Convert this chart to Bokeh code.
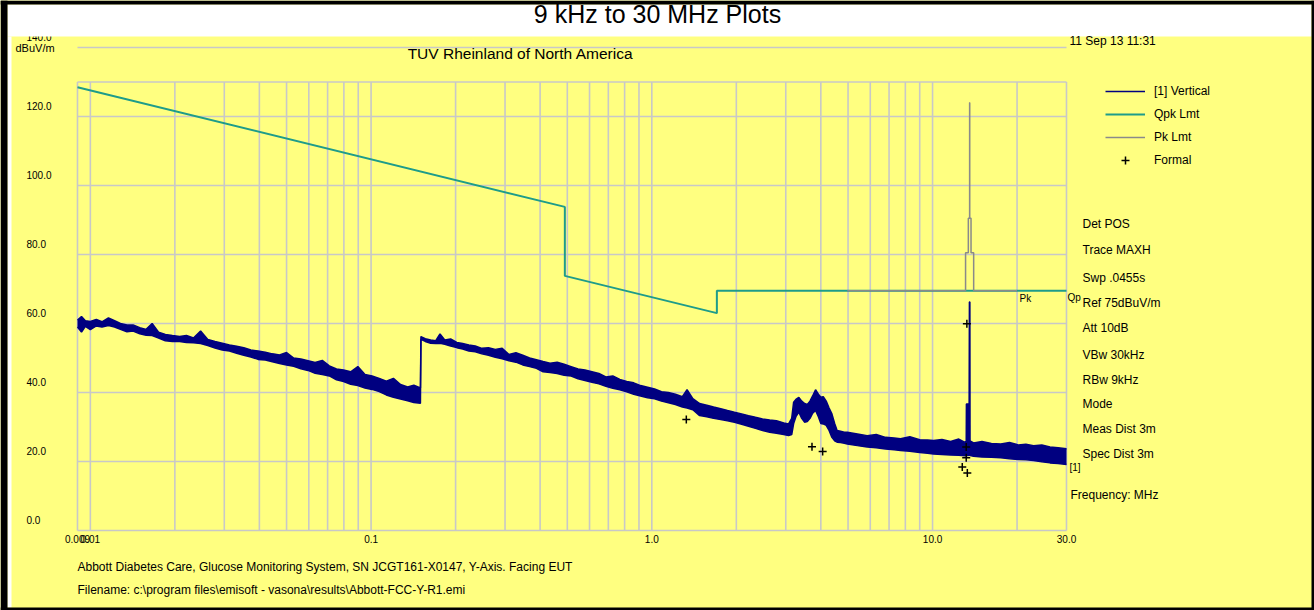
import math
from bokeh.plotting import figure
from bokeh.models import Range1d, Label, BoxAnnotation, Legend, LegendItem
from bokeh.core.properties import value
from bokeh.embed import file_html
from bokeh.resources import INLINE

# ---------------- data ----------------
qpk_freq = [0.009, 0.49, 0.49, 1.705, 1.705, 30.0]
qpk_db = [128.5, 93.8, 73.8, 63.0, 69.5, 69.5]

pk_freq = [4.97, 13.11, 13.11, 13.41, 13.41, 13.553, 13.553, 13.567, 13.567,
           13.71, 13.71, 14.01, 14.01, 20.0]
pk_db = [69.5, 69.5, 80.5, 80.5, 90.5, 90.5, 124.0, 124.0, 90.5,
         90.5, 80.5, 80.5, 69.5, 69.5]

trace_freq = [
    0.0090, 0.0093, 0.0096, 0.0100, 0.0105, 0.0110, 0.0116, 0.0122, 0.0128, 0.0135,
    0.0142, 0.0150, 0.0158, 0.0166, 0.0175, 0.0185, 0.0196, 0.0208, 0.0220, 0.0233,
    0.0247, 0.0262, 0.0278, 0.0295, 0.0313, 0.0332, 0.0352, 0.0373, 0.0396, 0.0420,
    0.0445, 0.0472, 0.0500, 0.0530, 0.0562, 0.0596, 0.0632, 0.0670, 0.0710, 0.0753,
    0.0798, 0.0846, 0.0897, 0.0951, 0.1008, 0.1069, 0.1133, 0.1201, 0.1273, 0.1350,
    0.1420, 0.1499,
    0.1505, 0.156, 0.163, 0.170, 0.176, 0.183, 0.192, 0.202, 0.212, 0.223,
    0.235, 0.248, 0.262, 0.277, 0.293, 0.310, 0.328, 0.347, 0.367, 0.388,
    0.410, 0.434, 0.460, 0.487, 0.516, 0.546, 0.578, 0.612, 0.648, 0.686,
    0.726, 0.769, 0.814, 0.862, 0.912, 0.966, 1.023, 1.083, 1.146, 1.213,
    1.285, 1.335, 1.40, 1.48, 1.57, 1.66, 1.76, 1.86, 1.97, 2.09,
    2.21, 2.34, 2.48, 2.63, 2.78, 2.95, 3.07,
    3.15, 3.20, 3.26, 3.34, 3.42, 3.50, 3.58, 3.66, 3.74, 3.83,
    3.92, 4.00, 4.08, 4.18, 4.28, 4.38, 4.48, 4.57, 4.70, 4.85, 4.97,
    5.40, 5.85, 6.30, 6.80, 7.30, 7.69, 8.30, 9.00, 9.60, 10.08,
    10.80, 11.60, 12.40, 13.00, 13.18, 13.20, 13.50, 13.53, 13.58, 13.60,
    14.00, 15.00, 16.20, 17.50, 18.80, 20.20, 21.50, 22.90, 24.50, 26.20,
    28.00, 30.00,
]
trace_hi = [
    61.0, 62.0, 60.8, 60.6, 61.2, 60.5, 61.6, 60.8, 60.0, 59.6,
    59.6, 58.8, 58.3, 60.0, 57.5, 56.8, 56.5, 56.2, 56.5, 55.8,
    57.8, 55.4, 54.8, 54.3, 53.8, 53.4, 53.0, 52.3, 52.0, 51.7,
    51.2, 50.9, 51.6, 50.0, 49.7, 49.2, 48.7, 49.3, 47.7, 46.8,
    46.5, 46.0, 47.5, 45.2, 44.8, 44.1, 43.3, 44.1, 42.3, 41.6,
    42.1, 41.3,
    56.2, 55.6, 55.2, 55.0, 57.0, 55.2, 55.5, 54.5, 54.2, 53.8,
    53.5, 52.8, 53.0, 52.5, 52.8, 51.0, 51.5, 50.8, 50.0, 49.5,
    49.0, 48.5, 48.8, 48.2, 47.5, 46.8, 46.5, 46.0, 45.5, 44.5,
    44.8, 43.8, 43.2, 42.8, 42.0, 41.5, 41.0, 40.2, 40.0, 39.5,
    38.8, 40.8, 38.2, 36.8, 36.3, 35.8, 35.3, 34.8, 34.3, 33.8,
    33.3, 32.8, 32.3, 32.0, 31.8, 31.2, 30.9,
    32.5, 37.2, 38.0, 38.6, 37.5, 36.8, 36.5, 37.5, 39.0, 40.8,
    39.5, 38.6, 38.8, 37.5, 35.5, 33.8, 31.0, 29.0, 28.8, 28.5, 28.5,
    28.0, 27.5, 27.8, 27.0, 26.8, 26.6, 27.2, 26.3, 26.2, 26.1,
    26.4, 25.8, 26.5, 25.6, 25.8, 36.7, 36.7, 66.2, 66.2, 26.0,
    25.4, 25.8, 25.2, 25.1, 25.5, 24.8, 25.0, 24.6, 24.8, 24.2,
    24.0, 23.7,
]
trace_lo = [
    59.0, 57.5, 59.2, 58.2, 59.3, 59.0, 59.4, 59.0, 58.3, 57.6,
    57.8, 57.0, 56.6, 56.5, 55.8, 55.0, 54.8, 54.8, 54.5, 54.4,
    54.2, 53.6, 52.9, 52.3, 52.0, 51.4, 50.8, 50.3, 49.6, 49.4,
    48.9, 48.4, 48.0, 47.6, 46.9, 46.4, 45.6, 45.2, 44.8, 43.7,
    43.2, 42.4, 42.0, 41.3, 40.9, 40.3, 39.3, 38.6, 38.1, 37.6,
    37.1, 36.9,
    55.4, 54.8, 54.3, 54.2, 54.3, 54.0, 53.5, 53.0, 52.6, 52.0,
    51.8, 51.2, 50.8, 50.2, 49.8, 49.2, 48.8, 48.0, 47.5, 47.0,
    46.0, 45.8, 45.5, 45.0, 44.8, 44.0, 43.5, 43.0, 42.5, 41.8,
    41.2, 40.8, 40.2, 39.5, 39.0, 38.5, 38.2, 37.5, 37.0, 36.5,
    35.8, 35.5, 35.0, 33.3, 33.0, 32.5, 32.2, 31.8, 31.4, 30.8,
    30.2, 29.6, 29.0, 28.5, 28.2, 27.8, 27.5,
    27.8, 31.0, 33.0, 34.3, 32.5, 31.4, 31.6, 32.5, 34.0, 34.8,
    33.0, 31.0, 30.9, 30.5, 29.0, 27.0, 26.0, 25.6, 25.5, 25.3, 25.1,
    24.6, 24.2, 24.0, 23.6, 23.4, 23.2, 23.0, 22.6, 22.4, 22.2,
    22.0, 21.9, 21.8, 21.7, 21.7, 21.7, 21.8, 21.8, 21.8, 21.7,
    21.5, 21.3, 21.2, 21.1, 20.8, 20.6, 20.5, 20.3, 19.9, 19.6,
    19.4, 19.1,
]

formal_freq = [1.327, 3.72, 4.06, 13.18, 13.18, 12.76, 13.30, 13.25]
formal_db = [32.2, 24.3, 22.9, 24.2, 21.1, 18.4, 16.7, 59.9]

grid_freq = [0.009, 0.01, 0.02, 0.03, 0.04, 0.05, 0.06, 0.07, 0.08, 0.09,
             0.1, 0.2, 0.3, 0.4, 0.5, 0.6, 0.7, 0.8, 0.9,
             1.0, 2.0, 3.0, 4.0, 5.0, 6.0, 7.0, 8.0, 9.0,
             10.0, 20.0, 30.0]
grid_db = [0, 20, 40, 60, 80, 100, 120, 130, 140]

y_ticks = [0, 20, 40, 60, 80, 100, 120, 140]
y_tick_labels = ["0.0", "20.0", "40.0", "60.0", "80.0", "100.0", "120.0", "140.0"]
x_ticks = [0.009, 0.01, 0.1, 1.0, 10.0, 30.0]
x_tick_labels = ["0.009", "0.01", "0.1", "1.0", "10.0", "30.0"]

legend_labels = ["[1] Vertical", "Qpk Lmt", "Pk Lmt", "Formal"]
info_lines = ["Det POS", "Trace MAXH", "Swp .0455s", "Ref 75dBuV/m", "Att 10dB",
              "VBw 30kHz", "RBw 9kHz", "Mode", "Meas Dist 3m", "Spec Dist 3m"]

# ---------------- geometry helpers (canvas pixel -> data) ----------------
W, H = 1314, 610
PX_L, PX_R = 77, 1066          # 0.009 MHz and 30 MHz
PY_0, PY_140 = 530, 47         # 0 dB and 140 dB
K = (PX_R - PX_L) / math.log10(30 / 0.009)
S = (PY_0 - PY_140) / 140.0


def X(px):
    return 10 ** (math.log10(0.009) + (px - PX_L) / K)


def Y(py):
    return (PY_0 - py) / S


YELLOW = "#FFFF80"
GRID = "#C8C8C8"
NAVY = "#000080"
TEAL = "#1E9C8A"
GRAY = "#8A8A8A"
FONT = "Liberation Sans"

# the frame covers the whole canvas; the chart area is placed through the scales
p = figure(width=W, height=H, x_axis_type="log",
           x_range=Range1d(X(0), X(W)), y_range=Range1d(Y(H), Y(0)),
           min_border=0, x_axis_location=None, y_axis_location=None,
           toolbar_location=None, title=None, output_backend="svg")
p.background_fill_color = YELLOW
p.border_fill_color = YELLOW
p.outline_line_color = None
p.xgrid.visible = False
p.ygrid.visible = False

# grid
p.segment(x0=grid_freq, y0=[0] * len(grid_freq), x1=grid_freq, y1=[130] * len(grid_freq),
          line_color=GRID, line_width=1.6)
p.segment(x0=[0.009] * len(grid_db), y0=grid_db, x1=[30.0] * len(grid_db), y1=grid_db,
          line_color=GRID, line_width=1.6)

# tick labels
p.text(x=x_ticks, y=[Y(538)] * len(x_ticks), text=x_tick_labels,
       text_font=value(FONT), text_font_size="10px", text_align="center",
       text_baseline="middle", text_color="black")
p.text(x=[X(26)] * len(y_ticks), y=[v + 11 / S for v in y_ticks], text=y_tick_labels,
       text_font=value(FONT), text_font_size="10px", text_align="left",
       text_baseline="middle", text_color="black")

# limit lines
qpk_r = p.line(qpk_freq, qpk_db, line_color=TEAL, line_width=2)
pk_r = p.line(pk_freq, pk_db, line_color=GRAY, line_width=1.5)

# measurement trace
p.varea(x=trace_freq, y1=trace_lo, y2=trace_hi, fill_color=NAVY)
tr_r = p.line(trace_freq, trace_hi, line_color=NAVY, line_width=1.5)
p.line(trace_freq, trace_lo, line_color=NAVY, line_width=1.5)

formal_r = p.scatter(formal_freq, formal_db, marker="cross", size=8,
                     line_color="black", line_width=1.5)

# legend: location is the bottom-left corner of the box, measured from the canvas bottom
legend = Legend(items=[LegendItem(label=legend_labels[0], renderers=[tr_r]),
                       LegendItem(label=legend_labels[1], renderers=[qpk_r]),
                       LegendItem(label=legend_labels[2], renderers=[pk_r]),
                       LegendItem(label=legend_labels[3], renderers=[formal_r])],
                location=(1105, H - 81 - 89), glyph_width=40, glyph_height=20,
                label_height=20, spacing=3, padding=0, margin=0, label_standoff=9,
                border_line_color=None, background_fill_alpha=0,
                label_text_font=FONT, label_text_font_size="12px",
                label_text_color="black")
p.add_layout(legend)


def lab(px, py, text, size="12px", align="left"):
    p.add_layout(Label(x=X(px), y=Y(py), text=text, text_font=FONT,
                       text_font_size=size, text_align=align,
                       text_baseline="middle", text_color="black"))


lab(15, 47.5, "dBuV/m", "11px")

# white title strip and black edges
p.add_layout(BoxAnnotation(left=X(7), right=X(1311), top=Y(4), bottom=Y(36),
                           fill_color="white", fill_alpha=1, line_color=None))
p.add_layout(BoxAnnotation(left=X(7), right=X(11), top=Y(36), bottom=Y(607),
                           fill_color="white", fill_alpha=1, line_color=None))
for l, r, t, b in [(0, W, 0, 4), (0, 7, 0, H), (1311, W, 0, H), (0, W, 607, H)]:
    p.add_layout(BoxAnnotation(left=X(l), right=X(r), top=Y(t), bottom=Y(b),
                               fill_color="black", fill_alpha=1, line_color=None))

lab(657, 13, "9 kHz to 30 MHz Plots", "25px", "center")
lab(520, 53, "TUV Rheinland of North America", "15.5px", "center")
lab(1069, 40, "11 Sep 13 11:31")

info_y = [223, 249, 277, 302, 327, 354, 379, 403, 428, 453]
for t, yy in zip(info_lines, info_y):
    lab(1082, yy, t)
lab(1067, 297, "Qp", "10px")
lab(1019, 298, "Pk", "10px")
lab(1069, 467, "[1]", "10px")
lab(1070, 494, "Frequency: MHz")

lab(77, 566, "Abbott Diabetes Care, Glucose Monitoring System, SN JCGT161-X0147, Y-Axis. Facing EUT")
lab(77, 589, "Filename: c:\\program files\\emisoft - vasona\\results\\Abbott-FCC-Y-R1.emi")

open("out.html", "w").write(file_html(p, INLINE))
